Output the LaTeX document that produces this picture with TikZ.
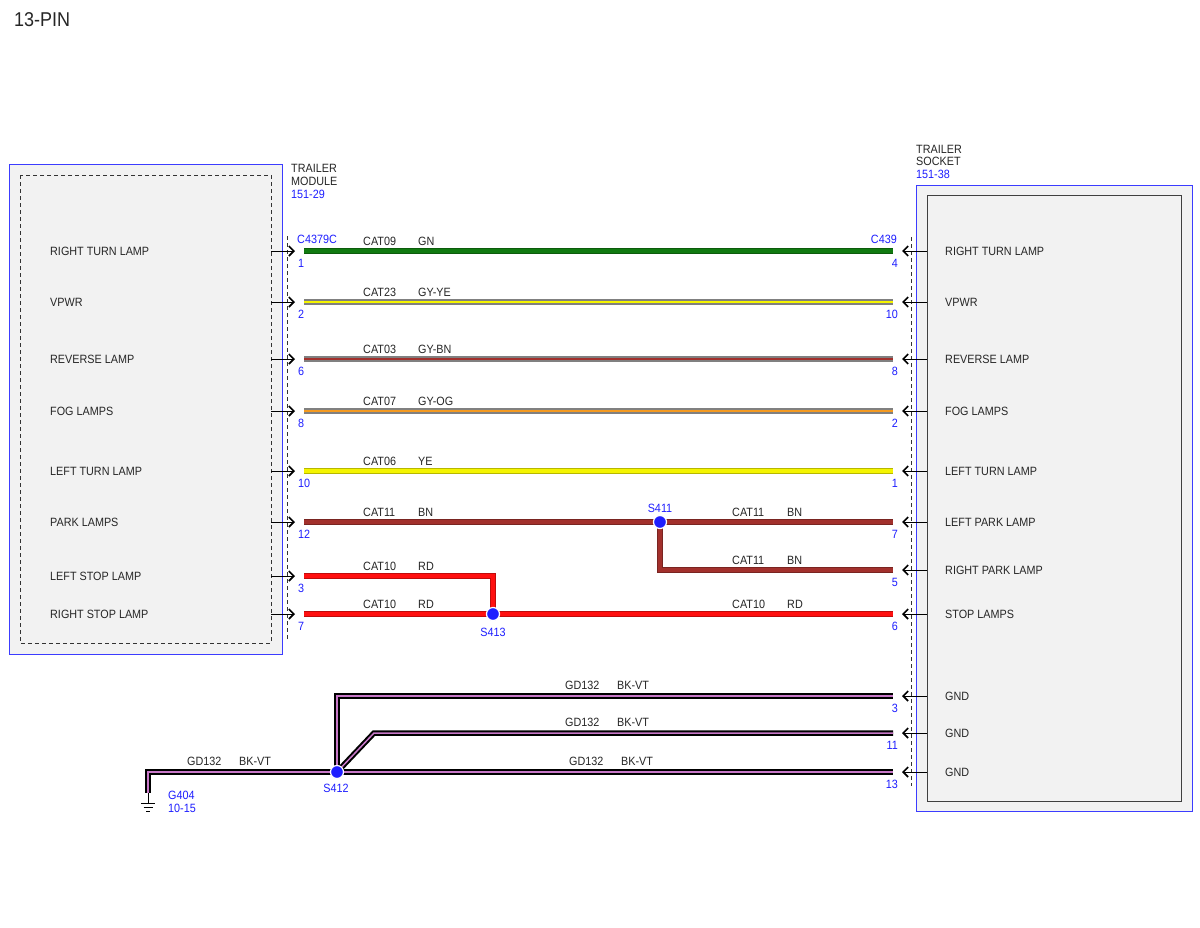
\documentclass[tikz,border=0pt]{standalone}
\usepackage{fontspec}
\setmainfont{Liberation Sans}[FakeStretch=0.9]
\usetikzlibrary{arrows.meta}

\definecolor{wblue}{HTML}{1E1EFF}
\definecolor{boxblue}{HTML}{3C3CFF}
\definecolor{boxfill}{HTML}{F2F2F2}
\definecolor{wgreen}{HTML}{107A10}
\definecolor{wgray}{HTML}{808080}
\definecolor{wyellow}{HTML}{F4F400}
\definecolor{wbrown}{HTML}{A2302C}
\definecolor{worange}{HTML}{F49A20}
\definecolor{wred}{HTML}{FF1010}
\definecolor{wviolet}{HTML}{C878C8}

\tikzset{
  lbl/.style={font=\fontsize{12}{13}\selectfont, text=black!85, inner sep=0pt, anchor=west},
  bluelbl/.style={lbl, text=wblue},
  pinin/.style={line width=0.8pt, -{Straight Barb[length=5pt,width=10pt,line width=1.6pt]}},
  plainwire/.style={draw=#1!75!black, double=#1, line width=0.5pt, double distance=4.4pt},
  stripewire/.style 2 args={draw=#1, double=#2, line width=2pt, double distance=1.5pt},
  splice/.style={circle, fill=wblue, draw=white, line width=1.2pt, minimum size=13pt, inner sep=0pt},
}

\begin{document}
\begin{tikzpicture}[x=1pt, y=-1pt, line join=miter]
  \fill[white] (0,0) rectangle (1200,927);
  \useasboundingbox (0,0) rectangle (1200,927);

  \node[font=\fontsize{20}{22}\selectfont, text=black!85, anchor=west, inner sep=0pt] (title) at (14,20) {13-PIN};

  % trailer module
  \draw[boxblue, fill=boxfill] (9,164) rectangle (282,654);
  \draw[black!80, dash pattern=on 4pt off 3pt] (20,175) rectangle (271,643);
  \node[lbl] (modname) at (291,168) {TRAILER};
  \node[lbl] (modname2) at (291,181) {MODULE};
  \node[bluelbl] (modref) at (291,194) {151-29};
  \draw[black!80, dash pattern=on 4pt off 3pt] (287,236) -- (287,641);
  \node[bluelbl] (mconn) at (297,239) {C4379C};

  % trailer socket
  \draw[boxblue, fill=boxfill] (916,185) rectangle (1192,811);
  \draw[black!75] (927,195) rectangle (1181,801);
  \node[lbl] (sockname) at (916,149) {TRAILER};
  \node[lbl] (sockname2) at (916,161) {SOCKET};
  \node[bluelbl] (sockref) at (916,174) {151-38};
  \draw[black!80, dash pattern=on 4pt off 3pt] (911,237) -- (911,786);
  \node[bluelbl, anchor=east] (sconn) at (897,239) {C439};

  % module pins
  \foreach \n/\y/\txt/\pin in {a/251/RIGHT TURN LAMP/1, b/302/VPWR/2, c/359/REVERSE LAMP/6,
      d/411/FOG LAMPS/8, e/471/LEFT TURN LAMP/10, f/522/PARK LAMPS/12,
      g/576/LEFT STOP LAMP/3, h/614/RIGHT STOP LAMP/7}{
    \node[lbl] (ml\n) at (50,\y) {\txt};
    \coordinate (mp\n) at (271,\y);
    \coordinate (ma\n) at (295,\y);
    \coordinate (mw\n) at (304,\y);
    \draw[pinin] (mp\n) -- (ma\n);
    \node[bluelbl, anchor=north west] (mn\n) at (298,\y+8) {\pin};
  }

  % socket pins
  \foreach \n/\y/\txt/\pin in {a/251/RIGHT TURN LAMP/4, b/302/VPWR/10, c/359/REVERSE LAMP/8,
      d/411/FOG LAMPS/2, e/471/LEFT TURN LAMP/1, f/522/LEFT PARK LAMP/7,
      g/570/RIGHT PARK LAMP/5, h/614/STOP LAMPS/6, i/696/GND/3, j/733/GND/11, k/772/GND/13}{
    \node[lbl] (sl\n) at (945,\y) {\txt};
    \coordinate (sp\n) at (927,\y);
    \coordinate (sa\n) at (902,\y);
    \coordinate (sw\n) at (893,\y);
    \draw[pinin] (sp\n) -- (sa\n);
    \node[bluelbl, anchor=north east] (sn\n) at (898,\y+8) {\pin};
  }

  % wires
  \coordinate (s411) at (660,522);
  \coordinate (s413) at (493,614);
  \coordinate (s412) at (337,772);
  \coordinate (g404) at (148,793);

  \draw[plainwire=wgreen] (mwa) -- (swa);
  \draw[stripewire={wgray}{wyellow}] (mwb) -- (swb);
  \draw[stripewire={wgray}{wbrown}] (mwc) -- (swc);
  \draw[stripewire={wgray}{worange}] (mwd) -- (swd);
  \draw[plainwire=wyellow] (mwe) -- (swe);
  \draw[plainwire=wbrown] (mwf) -- (swf);
  \draw[plainwire=wbrown] (s411) |- (swg);
  \draw[plainwire=wred] (mwg) -| (s413);
  \draw[plainwire=wred] (mwh) -- (swh);
  \draw[stripewire={black}{wviolet}] (s412) |- (swi);
  \draw[stripewire={black}{wviolet}] (s412) -- ++(37,-39) -- (swj);
  \draw[stripewire={black}{wviolet}] (s412) -- (swk);
  \draw[stripewire={black}{wviolet}] (s412) -| (g404);

  % ground
  \draw[line width=0.7pt] (g404) -- ++(0,10) coordinate (gs)
    (gs) ++(-7,0) -- ++(14,0)
    (gs) ++(-4.5,4) -- ++(9,0)
    (gs) ++(-2,8) -- ++(4,0);
  \node[bluelbl] (g404a) at (168,795) {G404};
  \node[bluelbl] (g404b) at (168,808) {10-15};

  % splices
  \node[splice] (s411dot) at (s411) {};
  \node[splice] (s413dot) at (s413) {};
  \node[splice] (s412dot) at (s412) {};
  \node[bluelbl, anchor=center] (s411lbl) at (660,508) {S411};
  \node[bluelbl, anchor=center] (s413lbl) at (493,632) {S413};
  \node[bluelbl, anchor=center] (s412lbl) at (336,788) {S412};

  % wire labels
  \foreach \x/\y/\cat/\col in {363/241/CAT09/GN, 363/292/CAT23/GY-YE, 363/349/CAT03/GY-BN,
      363/401/CAT07/GY-OG, 363/461/CAT06/YE, 363/512/CAT11/BN, 732/512/CAT11/BN,
      732/560/CAT11/BN, 363/566/CAT10/RD, 363/604/CAT10/RD, 732/604/CAT10/RD}{
    \node[lbl] at (\x,\y) {\cat};
    \node[lbl] at (\x+55,\y) {\col};
  }
  \foreach \x/\y in {565/685, 565/722, 569/761, 187/761}{
    \node[lbl] at (\x,\y) {GD132};
    \node[lbl] at (\x+52,\y) {BK-VT};
  }
\end{tikzpicture}
\end{document}
